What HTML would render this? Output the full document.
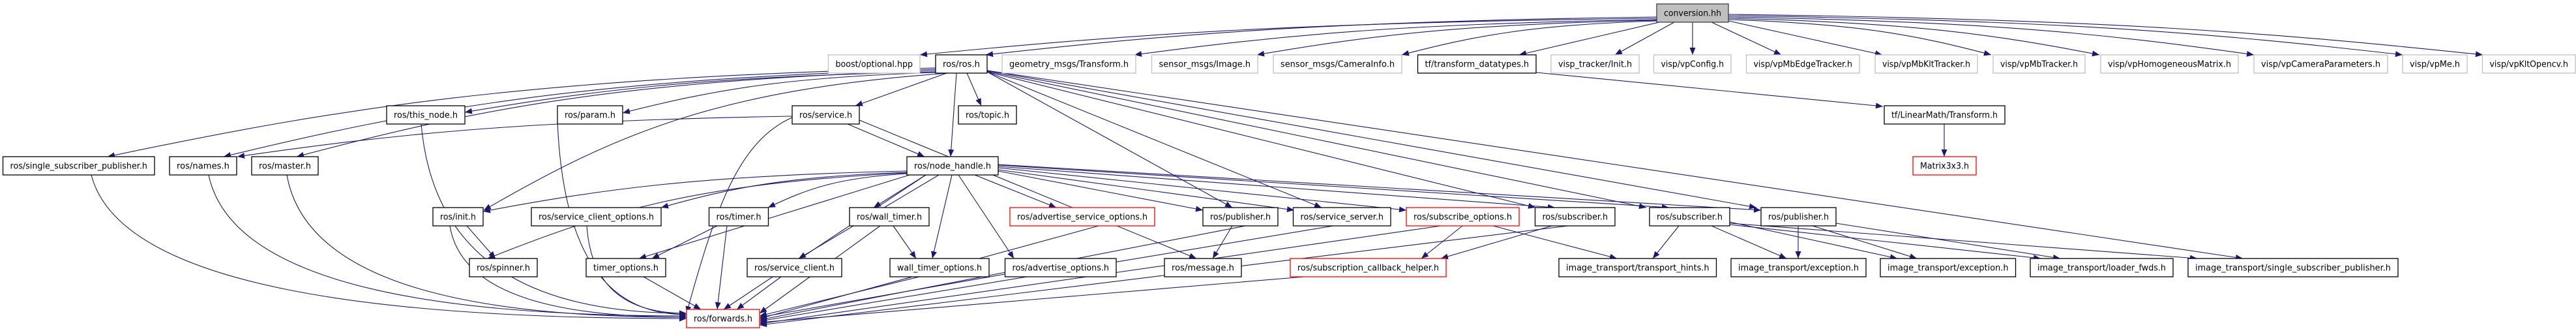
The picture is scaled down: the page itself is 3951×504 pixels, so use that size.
<!DOCTYPE html>
<html><head><meta charset="utf-8"><style>
html,body{margin:0;padding:0;background:#fff;width:3951px;height:504px;overflow:hidden}
svg text{font-family:"DejaVu Sans","Liberation Sans",sans-serif;font-size:13px;fill:#000}
</style></head><body>
<svg id="g" xmlns="http://www.w3.org/2000/svg" width="3951" height="504" viewBox="0 0 3951 504">
<defs><marker id="a" markerUnits="userSpaceOnUse" markerWidth="12" markerHeight="10" refX="11" refY="4.5" orient="auto"><path d="M0,0 L11,4.5 L0,9 z" fill="#191970"/></marker></defs>
<g id="edges" fill="none" stroke="#191970" stroke-width="1.1"></g>
<g id="nodes">
<rect x="2541" y="6" width="110" height="28" fill="#bfbfbf" stroke="#404040" stroke-width="1.3"/><text x="2596" y="24.5" text-anchor="middle" textLength="88" lengthAdjust="spacingAndGlyphs">conversion.hh</text>
<rect x="1270.5" y="84" width="140.5" height="28" fill="#fff" stroke="#bfbfbf" stroke-width="1.3"/><text x="1340.75" y="102.5" text-anchor="middle" textLength="118.5" lengthAdjust="spacingAndGlyphs">boost/optional.hpp</text>
<rect x="1435" y="84" width="79" height="28" fill="#fff" stroke="#000" stroke-width="1.3"/><text x="1474.5" y="102.5" text-anchor="middle" textLength="57" lengthAdjust="spacingAndGlyphs">ros/ros.h</text>
<rect x="1537" y="84" width="205" height="28" fill="#fff" stroke="#bfbfbf" stroke-width="1.3"/><text x="1639.5" y="102.5" text-anchor="middle" textLength="183" lengthAdjust="spacingAndGlyphs">geometry_msgs/Transform.h</text>
<rect x="1766.5" y="84" width="162.5" height="28" fill="#fff" stroke="#bfbfbf" stroke-width="1.3"/><text x="1847.75" y="102.5" text-anchor="middle" textLength="140.5" lengthAdjust="spacingAndGlyphs">sensor_msgs/Image.h</text>
<rect x="1953" y="84" width="197" height="28" fill="#fff" stroke="#bfbfbf" stroke-width="1.3"/><text x="2051.5" y="102.5" text-anchor="middle" textLength="175" lengthAdjust="spacingAndGlyphs">sensor_msgs/CameraInfo.h</text>
<rect x="2174.5" y="84" width="181.5" height="28" fill="#fff" stroke="#000" stroke-width="1.3"/><text x="2265.25" y="102.5" text-anchor="middle" textLength="159.5" lengthAdjust="spacingAndGlyphs">tf/transform_datatypes.h</text>
<rect x="2379" y="84" width="135" height="28" fill="#fff" stroke="#bfbfbf" stroke-width="1.3"/><text x="2446.5" y="102.5" text-anchor="middle" textLength="113" lengthAdjust="spacingAndGlyphs">visp_tracker/Init.h</text>
<rect x="2536.5" y="84" width="118.5" height="28" fill="#fff" stroke="#bfbfbf" stroke-width="1.3"/><text x="2595.75" y="102.5" text-anchor="middle" textLength="96.5" lengthAdjust="spacingAndGlyphs">visp/vpConfig.h</text>
<rect x="2678.5" y="84" width="173.5" height="28" fill="#fff" stroke="#bfbfbf" stroke-width="1.3"/><text x="2765.25" y="102.5" text-anchor="middle" textLength="151.5" lengthAdjust="spacingAndGlyphs">visp/vpMbEdgeTracker.h</text>
<rect x="2876" y="84" width="157" height="28" fill="#fff" stroke="#bfbfbf" stroke-width="1.3"/><text x="2954.5" y="102.5" text-anchor="middle" textLength="135" lengthAdjust="spacingAndGlyphs">visp/vpMbKltTracker.h</text>
<rect x="3057" y="84" width="141" height="28" fill="#fff" stroke="#bfbfbf" stroke-width="1.3"/><text x="3127.5" y="102.5" text-anchor="middle" textLength="119" lengthAdjust="spacingAndGlyphs">visp/vpMbTracker.h</text>
<rect x="3222" y="84" width="211" height="28" fill="#fff" stroke="#bfbfbf" stroke-width="1.3"/><text x="3327.5" y="102.5" text-anchor="middle" textLength="189" lengthAdjust="spacingAndGlyphs">visp/vpHomogeneousMatrix.h</text>
<rect x="3457" y="84" width="205" height="28" fill="#fff" stroke="#bfbfbf" stroke-width="1.3"/><text x="3559.5" y="102.5" text-anchor="middle" textLength="183" lengthAdjust="spacingAndGlyphs">visp/vpCameraParameters.h</text>
<rect x="3685" y="84" width="99" height="28" fill="#fff" stroke="#bfbfbf" stroke-width="1.3"/><text x="3734.5" y="102.5" text-anchor="middle" textLength="77" lengthAdjust="spacingAndGlyphs">visp/vpMe.h</text>
<rect x="3807.5" y="84" width="142.5" height="28" fill="#fff" stroke="#bfbfbf" stroke-width="1.3"/><text x="3878.75" y="102.5" text-anchor="middle" textLength="120.5" lengthAdjust="spacingAndGlyphs">visp/vpKltOpencv.h</text>
<rect x="593" y="162" width="120" height="28" fill="#fff" stroke="#000" stroke-width="1.3"/><text x="653" y="180.5" text-anchor="middle" textLength="98" lengthAdjust="spacingAndGlyphs">ros/this_node.h</text>
<rect x="855" y="162" width="100" height="28" fill="#fff" stroke="#000" stroke-width="1.3"/><text x="905" y="180.5" text-anchor="middle" textLength="78" lengthAdjust="spacingAndGlyphs">ros/param.h</text>
<rect x="1215" y="162" width="103" height="28" fill="#fff" stroke="#000" stroke-width="1.3"/><text x="1266.5" y="180.5" text-anchor="middle" textLength="81" lengthAdjust="spacingAndGlyphs">ros/service.h</text>
<rect x="1470" y="162" width="89" height="28" fill="#fff" stroke="#000" stroke-width="1.3"/><text x="1514.5" y="180.5" text-anchor="middle" textLength="67" lengthAdjust="spacingAndGlyphs">ros/topic.h</text>
<rect x="2890" y="162" width="185" height="28" fill="#fff" stroke="#000" stroke-width="1.3"/><text x="2982.5" y="180.5" text-anchor="middle" textLength="163" lengthAdjust="spacingAndGlyphs">tf/LinearMath/Transform.h</text>
<rect x="4.5" y="240" width="232.5" height="28" fill="#fff" stroke="#000" stroke-width="1.3"/><text x="120.75" y="258.5" text-anchor="middle" textLength="210.5" lengthAdjust="spacingAndGlyphs">ros/single_subscriber_publisher.h</text>
<rect x="260" y="240" width="103" height="28" fill="#fff" stroke="#000" stroke-width="1.3"/><text x="311.5" y="258.5" text-anchor="middle" textLength="81" lengthAdjust="spacingAndGlyphs">ros/names.h</text>
<rect x="386" y="240" width="102" height="28" fill="#fff" stroke="#000" stroke-width="1.3"/><text x="437" y="258.5" text-anchor="middle" textLength="80" lengthAdjust="spacingAndGlyphs">ros/master.h</text>
<rect x="1391" y="240" width="140" height="28" fill="#fff" stroke="#000" stroke-width="1.3"/><text x="1461" y="258.5" text-anchor="middle" textLength="118" lengthAdjust="spacingAndGlyphs">ros/node_handle.h</text>
<rect x="2934" y="240" width="97" height="28" fill="#fff" stroke="#ff0000" stroke-width="1.3"/><text x="2982.5" y="258.5" text-anchor="middle" textLength="75" lengthAdjust="spacingAndGlyphs">Matrix3x3.h</text>
<rect x="664" y="318" width="77" height="28" fill="#fff" stroke="#000" stroke-width="1.3"/><text x="702.5" y="336.5" text-anchor="middle" textLength="55" lengthAdjust="spacingAndGlyphs">ros/init.h</text>
<rect x="815" y="318" width="199" height="28" fill="#fff" stroke="#000" stroke-width="1.3"/><text x="914.5" y="336.5" text-anchor="middle" textLength="177" lengthAdjust="spacingAndGlyphs">ros/service_client_options.h</text>
<rect x="1087.5" y="318" width="91" height="28" fill="#fff" stroke="#000" stroke-width="1.3"/><text x="1133" y="336.5" text-anchor="middle" textLength="69" lengthAdjust="spacingAndGlyphs">ros/timer.h</text>
<rect x="1303" y="318" width="122" height="28" fill="#fff" stroke="#000" stroke-width="1.3"/><text x="1364" y="336.5" text-anchor="middle" textLength="100" lengthAdjust="spacingAndGlyphs">ros/wall_timer.h</text>
<rect x="1549" y="318" width="222" height="28" fill="#fff" stroke="#ff0000" stroke-width="1.3"/><text x="1660" y="336.5" text-anchor="middle" textLength="200" lengthAdjust="spacingAndGlyphs">ros/advertise_service_options.h</text>
<rect x="1845" y="318" width="115" height="28" fill="#fff" stroke="#000" stroke-width="1.3"/><text x="1902.5" y="336.5" text-anchor="middle" textLength="93" lengthAdjust="spacingAndGlyphs">ros/publisher.h</text>
<rect x="1983.5" y="318" width="149.5" height="28" fill="#fff" stroke="#000" stroke-width="1.3"/><text x="2058.25" y="336.5" text-anchor="middle" textLength="127.5" lengthAdjust="spacingAndGlyphs">ros/service_server.h</text>
<rect x="2157" y="318" width="173" height="28" fill="#fff" stroke="#ff0000" stroke-width="1.3"/><text x="2243.5" y="336.5" text-anchor="middle" textLength="151" lengthAdjust="spacingAndGlyphs">ros/subscribe_options.h</text>
<rect x="2354.5" y="318" width="122.5" height="28" fill="#fff" stroke="#000" stroke-width="1.3"/><text x="2415.75" y="336.5" text-anchor="middle" textLength="100.5" lengthAdjust="spacingAndGlyphs">ros/subscriber.h</text>
<rect x="2530" y="318" width="123" height="28" fill="#fff" stroke="#000" stroke-width="1.3"/><text x="2591.5" y="336.5" text-anchor="middle" textLength="101" lengthAdjust="spacingAndGlyphs">ros/subscriber.h</text>
<rect x="2701" y="318" width="115" height="28" fill="#fff" stroke="#000" stroke-width="1.3"/><text x="2758.5" y="336.5" text-anchor="middle" textLength="93" lengthAdjust="spacingAndGlyphs">ros/publisher.h</text>
<rect x="720" y="396" width="104" height="28" fill="#fff" stroke="#000" stroke-width="1.3"/><text x="772" y="414.5" text-anchor="middle" textLength="82" lengthAdjust="spacingAndGlyphs">ros/spinner.h</text>
<rect x="899" y="396" width="122" height="28" fill="#fff" stroke="#000" stroke-width="1.3"/><text x="960" y="414.5" text-anchor="middle" textLength="100" lengthAdjust="spacingAndGlyphs">timer_options.h</text>
<rect x="1146" y="396" width="145" height="28" fill="#fff" stroke="#000" stroke-width="1.3"/><text x="1218.5" y="414.5" text-anchor="middle" textLength="123" lengthAdjust="spacingAndGlyphs">ros/service_client.h</text>
<rect x="1365" y="396" width="152" height="28" fill="#fff" stroke="#000" stroke-width="1.3"/><text x="1441" y="414.5" text-anchor="middle" textLength="130" lengthAdjust="spacingAndGlyphs">wall_timer_options.h</text>
<rect x="1541.5" y="396" width="170.5" height="28" fill="#fff" stroke="#000" stroke-width="1.3"/><text x="1626.75" y="414.5" text-anchor="middle" textLength="148.5" lengthAdjust="spacingAndGlyphs">ros/advertise_options.h</text>
<rect x="1786" y="396" width="118" height="28" fill="#fff" stroke="#000" stroke-width="1.3"/><text x="1845" y="414.5" text-anchor="middle" textLength="96" lengthAdjust="spacingAndGlyphs">ros/message.h</text>
<rect x="1979" y="396" width="239" height="28" fill="#fff" stroke="#ff0000" stroke-width="1.3"/><text x="2098.5" y="414.5" text-anchor="middle" textLength="217" lengthAdjust="spacingAndGlyphs">ros/subscription_callback_helper.h</text>
<rect x="2391" y="396" width="241.5" height="28" fill="#fff" stroke="#000" stroke-width="1.3"/><text x="2511.75" y="414.5" text-anchor="middle" textLength="219.5" lengthAdjust="spacingAndGlyphs">image_transport/transport_hints.h</text>
<rect x="2655" y="396" width="207" height="28" fill="#fff" stroke="#000" stroke-width="1.3"/><text x="2758.5" y="414.5" text-anchor="middle" textLength="185" lengthAdjust="spacingAndGlyphs">image_transport/exception.h</text>
<rect x="2884" y="396" width="207.5" height="28" fill="#fff" stroke="#000" stroke-width="1.3"/><text x="2987.75" y="414.5" text-anchor="middle" textLength="185.5" lengthAdjust="spacingAndGlyphs">image_transport/exception.h</text>
<rect x="3114" y="396" width="219" height="28" fill="#fff" stroke="#000" stroke-width="1.3"/><text x="3223.5" y="414.5" text-anchor="middle" textLength="197" lengthAdjust="spacingAndGlyphs">image_transport/loader_fwds.h</text>
<rect x="3356" y="396" width="322" height="28" fill="#fff" stroke="#000" stroke-width="1.3"/><text x="3517" y="414.5" text-anchor="middle" textLength="300" lengthAdjust="spacingAndGlyphs">image_transport/single_subscriber_publisher.h</text>
<rect x="1053" y="474" width="112" height="28" fill="#fff" stroke="#ff0000" stroke-width="1.3"/><text x="1109" y="492.5" text-anchor="middle" textLength="90" lengthAdjust="spacingAndGlyphs">ros/forwards.h</text>
</g>
</svg>
<script>
var E=[
[2541,28,1411,84,'h'],[2541,26,1512,84,'h'],[2541,30,1740,84,'h'],[2541,31,1928,84,'h'],[2541,32,2150,84,'h'],[2545,34,2330,84,'s'],[2568,34,2477,84,'s'],[2596,34,2596,84,'s'],[2625,34,2732,84,'s'],[2651,32,2887,84,'s'],[2651,30,3054,84,'h'],[2651,28,3220,84,'h'],[2651,26,3457,84,'h'],[2651,24,3685,84,'h'],[2651,22,3808,84,'h'],
[2356,111,2888,163,'s'],[2982,190,2982,240,'s'],
[1435,104,165,240,'h'],[1435,106,343,240,'h'],[1435,108,455,240,'h'],[1435,110,713,172,'h'],[1437,111,955,173,'h'],[1452,112,1312,162,'s'],[1483,112,1505,162,'s'],[1467,112,1458,240,'s'],[1455,112,742,322,'h'],
[1514,110,1890,318,'s'],[1514,110,2027,318,'s'],[1514,110,2355,318,'s'],[1514,109,2525,318,'s'],[1514,108,2694,318,'s'],[1514,108,3440,396,'s'],
[1215,178,364,240,'h'],[1300,190,1418,240,'s'],[1318,184,1835,396,'s'],[1215,180,1053,480,'h'],
[646,190,1053,480,'v'],[855,186,1053,482,'v'],[320,268,1053,484,'v'],[440,268,1053,486,'v'],[140,268,1053,488,'v'],
[1391,265,748,396,'h'],[1391,262,741,324,'h'],[1391,264,1014,318,'h'],[1391,266,1178,318,'h'],[1395,268,980,396,'s'],[1420,268,1110,474,'s'],[1420,268,1340,318,'s'],[1460,268,1430,396,'s'],[1470,268,1555,396,'s'],[1495,268,1620,318,'s'],[1440,268,1225,396,'s'],
[1531,262,1845,322,'s'],[1531,260,1985,322,'s'],[1531,257,2157,322,'s'],[1531,255,2385,318,'s'],[1531,253,2560,318,'s'],[1531,252,2701,322,'s'],
[716,346,760,396,'s'],[690,346,1053,486,'v'],[900,346,1053,480,'v'],[1100,346,1000,396,'s'],[1115,346,1100,474,'s'],[1350,346,1165,480,'s'],[1370,346,1405,396,'s'],
[987,424,1075,474,'s'],[1198,424,1130,474,'s'],[1410,424,1165,484,'s'],[1541,420,1165,486,'s'],[1685,346,1165,488,'s'],[1890,346,1860,396,'s'],[1910,346,1165,490,'s'],[2045,346,1165,492,'s'],[2000,424,1165,494,'s'],
[2210,346,1165,496,'s'],[2243,346,2180,396,'s'],[2290,346,2480,396,'s'],[2380,346,2210,396,'s'],[2405,346,1165,498,'s'],
[2575,346,2535,396,'s'],[2625,346,2740,396,'s'],[2653,340,2910,396,'s'],[2653,344,3130,396,'s'],[2653,342,3370,396,'s'],
[2758,346,2758,396,'s'],[2780,346,2940,396,'s'],[2816,342,3160,396,'s']
];
var g=document.getElementById('edges'),s='';
E.forEach(function(e){var x1=e[0],y1=e[1],x2=e[2],y2=e[3],d;
if(e[4]=='h'){d='M'+x1+','+y1+' C'+(x1+(x2-x1)*0.5)+','+(y1+(y2-y1)*0.12)+' '+(x2+(x1-x2)*0.28)+','+(y2-(y2-y1)*0.55)+' '+x2+','+y2;}
else if(e[4]=='v'){d='M'+x1+','+y1+' C'+(x1+(x2-x1)*0.05)+','+(y1+(y2-y1)*0.8)+' '+(x2-(x2-x1)*0.5)+','+y2+' '+x2+','+y2;}
else{d='M'+x1+','+y1+' C'+(x1+(x2-x1)*0.35)+','+(y1+(y2-y1)*0.35)+' '+(x1+(x2-x1)*0.65)+','+(y1+(y2-y1)*0.65)+' '+x2+','+y2;}
s+='<path d="'+d+'" marker-end="url(#a)"/>';});
g.innerHTML=s;
</script>
</body></html>
